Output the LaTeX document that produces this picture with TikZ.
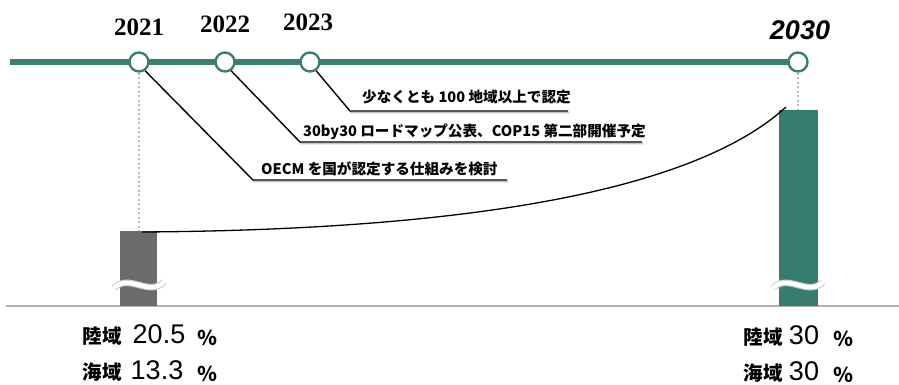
\documentclass[tikz,border=0pt]{standalone}
\usepackage{fontspec}
\setmainfont{Liberation Sans}
\newfontfamily\jp{Noto Sans CJK JP}
\newfontfamily\yr{Liberation Serif}
\definecolor{teal1}{HTML}{3A7F71}
\definecolor{tealbar}{HTML}{367C6F}
\definecolor{graybar}{HTML}{6B6B6B}
\tikzset{
  dot/.style={circle,draw=teal1,line width=2.4pt,fill=white,minimum size=19pt,inner sep=0pt},
  leader/.style={line width=1.3pt,black},
  shade/.style={line width=1.6pt,gray!45},
  guide/.style={gray!55,line width=1.4pt,dash pattern=on 2pt off 2.5pt},
  ann/.style={anchor=base west,inner sep=0pt,font=\jp\bfseries\fontsize{14.6}{14.6}\selectfont},
  year/.style={font=\yr\bfseries\fontsize{25}{25}\selectfont,inner sep=0pt},
  cjk/.style={font=\jp\bfseries\fontsize{19.5}{19.5}\selectfont,inner sep=0pt},
  num/.style={font=\fontsize{27}{27}\selectfont,inner sep=0pt},
  pct/.style={font=\jp\bfseries\fontsize{20}{20}\selectfont,inner sep=0pt},
}
\begin{document}
\begin{tikzpicture}[x=1pt,y=-1pt]
\useasboundingbox (0,0) rectangle (899,385);
% baseline
\draw[gray!60,line width=2pt] (6,306) -- (899,306);
% bars
\fill[graybar] (120,231) rectangle (157,306);
\fill[tealbar] (779,110) rectangle (818,306);
% wave breaks
\foreach \x in {139,798}{
  \draw[gray!40,line width=6.5pt] (\x-25,288) .. controls (\x-10,273) and (\x+10,297) .. (\x+25,282);
  \draw[white,line width=4.3pt] (\x-25,288) .. controls (\x-10,273) and (\x+10,297) .. (\x+25,282);
}
% timeline
\draw[teal1,line width=5.5pt] (10,62) -- (798,62);
\node[dot] (c21) at (139,62) {};
\node[dot] (c22) at (225,62) {};
\node[dot] (c23) at (310,62) {};
\node[dot] (c30) at (798,62) {};
% years
\node[year] (y21) at (139,27) {2021};
\node[year] (y22) at (225,24) {2022};
\node[year] (y23) at (308,22) {2023};
\node[font=\bfseries\itshape\fontsize{27}{27}\selectfont,inner sep=0pt] (y30) at (800,30) {2030};
% guides
\coordinate (b21) at (139,231);
\coordinate (b30) at (798,110);
\draw[guide] (c21.south) -- (b21);
\draw[guide] (c30.south) -- (b30);
% annotations
\node[ann] (t23) at (362,103) {少なくとも 100 地域以上で認定};
\node[ann] (t22) at (303,136) {30by30 ロードマップ公表、COP15 第二部開催予定};
\node[ann] (t21) at (261,174) {OECM を国が認定する仕組みを検討};
\coordinate (k23) at (350,111);
\coordinate (e23) at (568,111);
\coordinate (k22) at (300,142);
\coordinate (e22) at (642,142);
\coordinate (k21) at (253,180);
\coordinate (e21) at (507,180);
\foreach \c/\k/\e in {c23/k23/e23,c22/k22/e22,c21/k21/e21}{
  \draw[shade,transform canvas={shift={(1.3pt,-1.6pt)}}] (\c.-55) -- (\k) -- (\e);
  \draw[leader] (\c.-55) -- (\k) -- (\e);
}
% growth curve
\coordinate (s) at (142,232);
\coordinate (f) at (786,107);
\draw[black,line width=1.3pt] (s) .. controls (450,230) and (690,195) .. (f);
% bottom labels
\node[cjk] (l1) at (102,336) {陸域};
\node[num] (n1) at (159,334) {20.5};
\node[pct] (p1) at (207,338) {％};
\node[cjk] (l2) at (102,372) {海域};
\node[num] (n2) at (157,370) {13.3};
\node[pct] (p2) at (207,374) {％};
\node[cjk] (r1) at (763,337) {陸域};
\node[num] (m1) at (804,335) {30};
\node[pct] (q1) at (843,339) {％};
\node[cjk] (r2) at (763,373) {海域};
\node[num] (m2) at (804,371) {30};
\node[pct] (q2) at (843,375) {％};
\end{tikzpicture}
\end{document}
